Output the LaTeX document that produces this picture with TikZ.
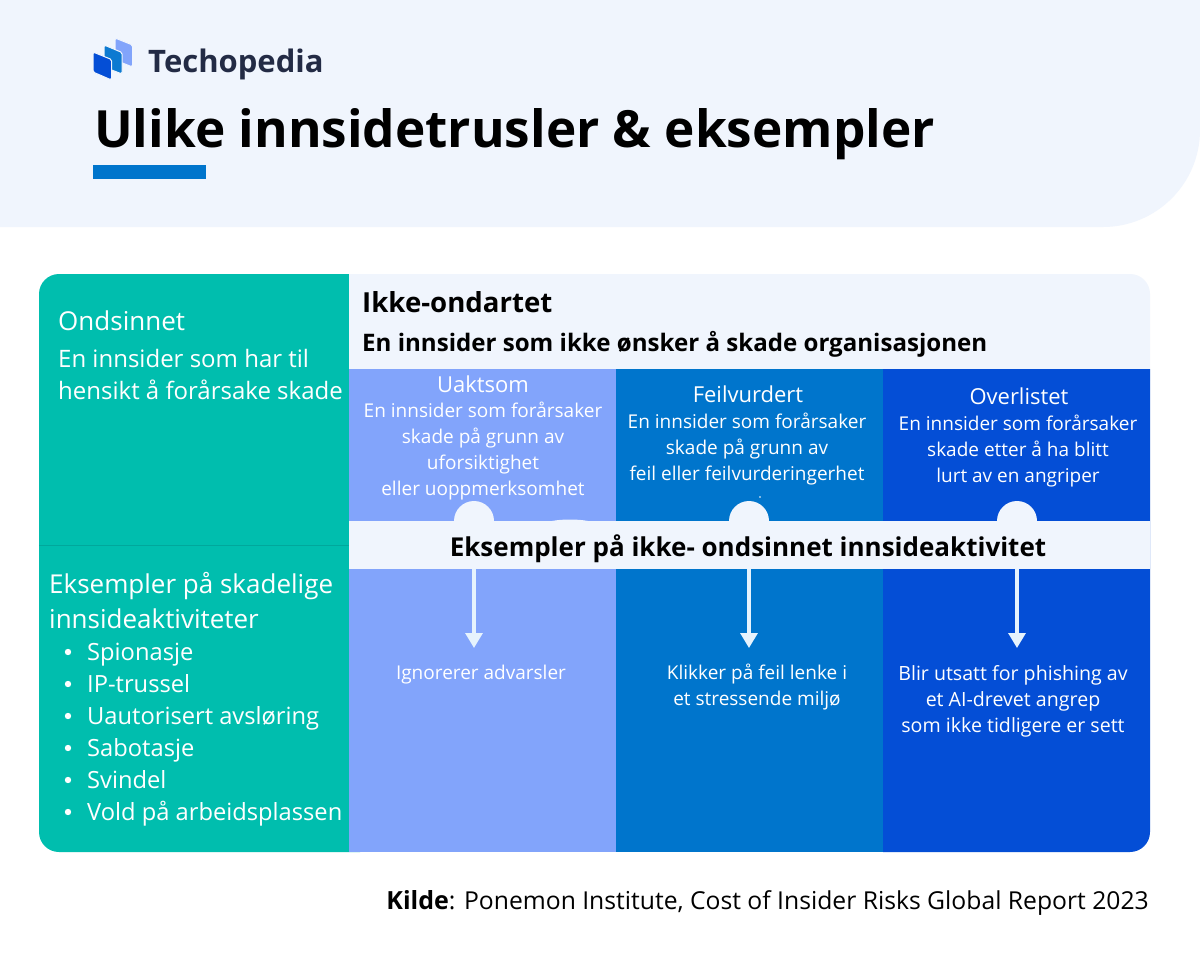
\documentclass[tikz,border=0pt]{standalone}
\usepackage{fontspec}
\setmainfont{Open Sans}
\newfontfamily\titlefont{Open Sans}
\usetikzlibrary{arrows.meta}
\definecolor{hdr}{HTML}{F0F5FD}
\definecolor{teal}{HTML}{00BEAE}
\definecolor{tealline}{HTML}{00A89C}
\definecolor{colA}{HTML}{82A4FB}
\definecolor{colB}{HTML}{0075CC}
\definecolor{colC}{HTML}{044ED6}
\definecolor{ink}{HTML}{232B45}
\definecolor{arrowc}{HTML}{E6F3FD}
\tikzset{
  x=1pt,y=-1pt,
  wtxt/.style={text=white,align=center,inner sep=0pt,font=\fontsize{19}{26}\selectfont\mdseries},
  wlft/.style={text=white,align=left,anchor=west,inner sep=0pt},
  head/.style={wtxt,font=\fontsize{22}{26}\selectfont},
  blk/.style={text=black,anchor=base west,inner sep=0pt},
  flow/.style={draw=arrowc,line width=3.2pt,-{Triangle[length=15pt,width=17pt,fill=arrowc]}},
  bump/.style={fill=hdr,draw=none},
  logopc/.style={draw=hdr,line width=1pt,rounded corners=1.5pt},
}
\begin{document}
\begin{tikzpicture}
\useasboundingbox (0,0) rectangle (1200,971);
\fill[white] (0,0) rectangle (1200,971);
\fill[hdr] (0,0) -- (1200,0) -- (1200,130) .. controls (1200,184) and (1156,227) .. (1103,227) -- (0,227) -- cycle;
% logo
\filldraw[logopc,fill=colA] (115,38) -- (132.5,45) -- (132.5,67) -- (115,60) -- cycle;
\filldraw[logopc,fill=colB!90!colA] (104,45) -- (122,52.5) -- (122,74) -- (104,67) -- cycle;
\filldraw[logopc,fill=colC] (93,52) -- (111.5,59.5) -- (111.5,80) -- (93,72) -- cycle;
\node[anchor=base west,inner sep=0pt,text=ink,font=\titlefont\bfseries\fontsize{31}{36}\selectfont] (brand) at (148,73) {Techopedia};
\node[blk,font=\titlefont\bfseries\fontsize{51.3}{60}\selectfont] (title) at (94,148) {Ulike innsidetrusler \& eksempler};
\fill[colB] (93,165) rectangle (206,179);
% panels
\fill[teal,rounded corners=20pt] (39,274) rectangle (380,852);
\fill[hdr,rounded corners=20pt] (330,274) rectangle (1150,400);
\fill[teal] (330,274) rectangle (349,852);
\fill[colA] (349,369) rectangle (616,852);
\fill[colB] (616,369) rectangle (883,852);
\fill[colC] (883,369) -- (1150,369) [rounded corners=20pt] -- (1150,852) [sharp corners] -- (883,852) -- cycle;
\draw[tealline,line width=.8pt] (39,545) -- (349,545);
% band and bumps
\fill[bump] (474,521) circle[radius=20];
\fill[bump] (749,521) circle[radius=20];
\fill[bump] (1017,521) circle[radius=20];
\fill[bump] (552,521) .. controls (562,519) and (578,519) .. (588,521) -- cycle;
\fill[hdr] (349,521) rectangle (1150,569);
\fill[white] (760,497) circle[radius=.9];
% left column
\node[wlft,font=\fontsize{26}{30}\selectfont] (mal) at (58,321) {Ondsinnet};
\node[wlft,font=\fontsize{24}{32}\selectfont,anchor=north west] (maltxt) at (58,349) {En innsider som har til\\hensikt å forårsake skade};
\node[wlft,font=\fontsize{26}{35}\selectfont,anchor=north west] (ex) at (49,572) {Eksempler på skadelige\\innsideaktiviteter};
\foreach \t/\y in {Spionasje/652,IP-trussel/684,Uautorisert avsløring/716,Sabotasje/748,Svindel/780,Vold på arbeidsplassen/812}{
  \fill[white] (68,\y) circle[radius=3.2];
  \node[wlft,anchor=base west,font=\fontsize{23.7}{26}\selectfont] at (87,\y+8) {\t};
}
% top right
\node[blk,font=\titlefont\bfseries\fontsize{27.6}{30}\selectfont] (ikke) at (362,312) {Ikke-ondartet};
\node[blk,font=\titlefont\bfseries\fontsize{24.1}{30}\selectfont] (ikkesub) at (362,351) {En innsider som ikke ønsker å skade organisasjonen};
% columns
\node[head] (ua) at (483,384) {Uaktsom};
\node[wtxt,anchor=north] (uat) at (483,402) {En innsider som forårsaker\\skade på grunn av\\uforsiktighet\\eller uoppmerksomhet};
\node[head] (fe) at (748,394) {Feilvurdert};
\node[wtxt,anchor=north] (fet) at (747,413) {En innsider som forårsaker\\skade på grunn av\\feil eller feilvurderingerhet};
\node[head] (ov) at (1019,396) {Overlistet};
\node[wtxt,anchor=north] (ovt) at (1018,415) {En innsider som forårsaker\\skade etter å ha blitt\\lurt av en angriper};
\node[blk,anchor=base,font=\titlefont\bfseries\fontsize{26}{30}\selectfont] (band) at (748,556) {Eksempler på ikke- ondsinnet innsideaktivitet};
% arrows
\coordinate (a0) at (474,569); \coordinate (a1) at (474,648);
\coordinate (b0) at (749,569); \coordinate (b1) at (749,648);
\coordinate (c0) at (1017,569); \coordinate (c1) at (1017,648);
\draw[flow] (a0) -- (a1);
\draw[flow] (b0) -- (b1);
\draw[flow] (c0) -- (c1);
\node[wtxt] (ua2) at (481,675) {Ignorerer advarsler};
\node[wtxt,anchor=north] (fe2) at (757,664) {Klikker på feil lenke i\\et stressende miljø};
\node[wtxt,anchor=north,font=\fontsize{19.6}{26}\selectfont] (ov2) at (1013,665) {Blir utsatt for phishing av\\et AI-drevet angrep\\som ikke tidligere er sett};
% source
\node[anchor=base east,inner sep=0pt,font=\fontsize{24.7}{28}\selectfont,text=black] (src) at (1149,909) {{\titlefont\bfseries\fontsize{25}{28}\selectfont Kilde}: Ponemon Institute, Cost of Insider Risks Global Report 2023};
\end{tikzpicture}
\end{document}
